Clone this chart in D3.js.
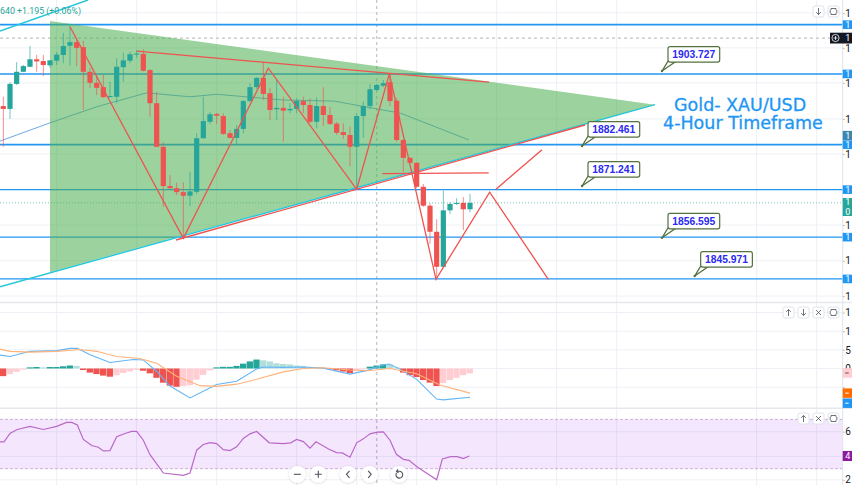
<!DOCTYPE html>
<html>
<head>
<meta charset="utf-8">
<script src="https://d3js.org/d3.v7.min.js"></script>
<style>
  html, body { margin: 0; padding: 0; background: #fff; overflow: hidden; }
  svg { display: block; font-family: Roboto, sans-serif; }
</style>
</head>
<body>
<svg id="chart" width="852" height="485"></svg>
<script>
// 4h candles, one entry per bar
const candleOpen = [1894.9,1894.1,1901.1,1904.5,1905.9,1908.0,1907.5,1906.3,1907.6,1909.2,1911.8,1912.8,1911.4,1904.5,1901.4,1900.2,1897.4,1897.5,1905.8,1907.6,1909.3,1909.5,1905.0,1895.7,1883.5,1872.5,1871.9,1870.8,1869.8,1870.9,1885.9,1890.5,1892.7,1892.1,1887.3,1886.0,1888.5,1896.3,1900.2,1902.8,1898.5,1894.0,1894.4,1893.7,1894.1,1896.3,1895.2,1890.5,1894.9,1892.4,1890.0,1887.6,1886.8,1883.5,1892.1,1894.9,1899.4,1900.6,1901.6,1896.4,1885.4,1880.4,1879.0,1872.3,1867.0,1859.7,1849.9,1865.7,1867.5,1867.8,1866.0];
const candleClose = [1894.1,1901.1,1904.5,1906.1,1908.0,1907.4,1906.4,1907.7,1909.3,1911.7,1912.8,1911.2,1904.5,1901.4,1900.0,1897.4,1897.7,1905.9,1907.7,1909.4,1909.6,1904.8,1895.7,1883.5,1872.5,1871.9,1870.8,1869.8,1871.0,1885.9,1890.7,1892.6,1892.2,1887.1,1886.0,1888.5,1896.3,1900.2,1902.8,1898.3,1893.8,1894.4,1893.6,1894.1,1896.3,1895.2,1890.5,1894.9,1892.4,1889.9,1887.4,1886.8,1883.5,1892.1,1894.9,1899.6,1900.8,1901.3,1896.3,1885.4,1880.4,1879.0,1872.3,1867.0,1859.7,1849.9,1865.7,1867.5,1867.8,1866.0,1867.8];
const candleHigh = [1897.5,1901.6,1907.2,1906.4,1911.7,1909.2,1909.2,1907.8,1910.1,1915.4,1917.3,1913.4,1913.2,1905.6,1903.6,1903.6,1901.7,1908.3,1909.8,1910.1,1910.6,1910.8,1905.2,1898.9,1884.8,1875.6,1873.4,1873.6,1876.5,1887.3,1897.5,1893.3,1893.0,1892.9,1888.2,1889.6,1896.6,1901.3,1903.0,1907.3,1900.0,1902.4,1897.5,1895.7,1897.1,1897.5,1897.1,1897.4,1900.2,1894.6,1890.5,1890.1,1889.1,1892.9,1896.1,1901.1,1901.1,1902.2,1903.9,1897.2,1885.6,1880.6,1879.2,1873.1,1867.7,1863.2,1871.2,1868.0,1869.1,1869.4,1870.3];
const candleLow = [1883.5,1891.3,1900.8,1904.4,1905.8,1904.5,1903.3,1905.6,1906.4,1906.9,1906.2,1906.1,1893.8,1899.9,1898.0,1897.2,1897.3,1895.7,1901.7,1906.9,1908.3,1904.6,1891.9,1883.4,1866.7,1871.6,1870.0,1858.2,1866.9,1870.2,1885.8,1889.8,1889.8,1886.8,1885.9,1884.3,1887.3,1896.1,1899.6,1896.6,1891.0,1891.0,1884.9,1892.9,1892.9,1892.9,1890.1,1888.7,1889.3,1889.6,1886.8,1885.7,1878.1,1871.7,1886.0,1894.0,1899.2,1900.2,1894.9,1884.9,1876.5,1878.9,1871.9,1866.7,1856.3,1846.7,1849.8,1864.7,1867.2,1860.2,1865.2];

// moving average, [bar, price]
const maLine = [[-0.5,1885.1],[7,1890.2],[14,1894.7],[21.5,1898.6],[28,1897.5],[32,1898.2],[42,1896.6],[49.6,1896.3],[59.6,1892.9],[69.85,1885.4]];

// horizontal levels
const levelPrices = [1917.7,1903.9,1884.1,1871.5,1858.2,1846.5];
const lastPrice = 1867.8;
const rangeHigh = 1913.9;

// annotated callouts: tip at [bar, price]
const calloutLabels = ['1903.727','1882.461','1871.241','1856.595','1845.971'];
const calloutBars = [98.8,86.8,86.8,98.8,103.7];
const calloutPrices = [1904.7,1883.7,1872.5,1858.0,1847.3];

// hand-drawn pattern, [bar, price]
const triangle = [[7,1918.7],[97.75,1895.3],[7,1848.4]];
const cyanLow = [[-0.5,1844.3],[97.75,1895.3]];
const cyanHigh = [[-0.5,1915.9],[12.7,1924.6]];
const zigzag = [[10,1917.1],[27,1857.9],[39.75,1905.5],[53,1871.6],[57.9,1903.9],[64.9,1846.4],[72.95,1870.8],[81.75,1846.4]];
const riseLeg = [[73.9,1871.6],[80.8,1882.7]];
const upperTrend = [[20,1910.3],[72.85,1901.6]];
const lowerTrend = [[25.9,1857.4],[87.25,1889.6]];
const neckLine = [[56.85,1876.0],[72.8,1876.2]];

// MACD pane
const histValues = [-2.05,-1.5,-0.9,-0.3,0.3,0.4,0.3,0.4,0.4,0.6,0.8,0.7,-0.4,-1.1,-1.5,-1.9,-2.2,-1.8,-1.2,-0.8,-0.4,-0.6,-1.3,-2.5,-3.8,-4.6,-4.9,-4.7,-4.5,-3.0,-1.7,-0.5,0.3,0.45,0.45,0.7,1.3,1.9,2.4,2.2,1.9,1.4,1.2,1.1,0.8,0.7,0.4,0.35,0.15,-0.2,-0.5,-0.8,-1.2,-0.5,-0.3,0.5,0.8,1.1,1.05,0.3,-1.1,-1.8,-2.3,-3.1,-3.8,-4.7,-3.9,-3.1,-2.5,-1.8,-1.3];
const macdLine = [[-0.5,3.6],[1,3.2],[4,4.6],[8,4.8],[10,5.4],[11.1,5.4],[13,3.7],[16,1.6],[19.5,2.4],[21,2.3],[23,-0.8],[25,-4.7],[28,-7.9],[32,-4.3],[35,-3.4],[38,-0.1],[39,0.4],[42,0.3],[45,0.4],[48,0.1],[52,-1.5],[54.6,-0.5],[57.1,1.0],[57.9,1.2],[59.4,-0.1],[62,-2.9],[65,-8.2],[66,-8.4],[70,-7.7]];
const signalLine = [[-0.5,5.2],[1,4.6],[4,4.4],[8,4.6],[11.5,5.1],[14,4.6],[17,3.2],[20.5,2.7],[23,1.4],[26,-2.1],[29.5,-4.6],[32,-4.8],[35,-4.2],[38,-2.9],[42,-0.9],[45,0],[48,0.2],[52,-0.4],[54.6,-0.6],[58,0],[62,-1.4],[65.6,-4.5],[70,-6.6]];

// RSI pane
const rsiLine = [[-0.5,51.8],[0.1,51.8],[1,58.6],[2,61.6],[4,64.3],[6,61.8],[8,64.3],[9.5,67.6],[10.25,67.6],[11.1,65.4],[12,53.7],[13.25,48.8],[14.25,47.4],[15,44.4],[16,44.7],[17,55.9],[18.25,58.6],[19.25,60.2],[20,60.2],[21,53.1],[22,41.4],[24,26.5],[27,24.6],[28,26.5],[29,45],[30,49.6],[31,51.2],[32,50.4],[33,45.5],[34,44.7],[35,47.7],[36,54.5],[37,58.3],[38,60.2],[39.9,51],[42,50.4],[43.1,51],[44,53.7],[45,52],[46,46.6],[46.9,51.8],[48.85,45.8],[50,43.1],[50.85,42.8],[52,39.3],[53,51],[54,54.2],[55,58.3],[56.1,59.7],[57,59.9],[58,53.1],[58.95,41.7],[60,37.6],[60.85,36.8],[62.1,31.4],[65,21],[65.85,37.9],[67.1,39.8],[68.1,39.8],[69,38.2],[69.9,40.3]];

// axes, empty label where a value tag covers the tick
const priceTicks = [1921,1911.2,1901.4,1891.3,1881.5,1871.5,1861.6,1851.6,1841.7];
const priceTickLabels = ['1','1','1','1','1','','1','1','1'];
const macdTicks = [15,10,5,0,-5];
const macdTickLabels = ['1','1','5','0',''];
const rsiTicks = [60,40,21];
const rsiTickLabels = ['6','','2'];
const gridBars = [8,20,32,44,53,62,74,83,92,113,122];

const width = 852, height = 485, axisX = 842.7;
const titleLines = ['Gold- XAU/USD', '4-Hour Timeframe'];
const legendText = '640 +1.195 (+0.06%)';

const svg = d3.select('#chart');

const x = d3.scaleLinear().domain([0, 70]).range([3.33, 470]);
const y = d3.scaleLinear().domain([1788.8, 1924.6]).range([485, 0]);
const yMacd = d3.scaleLinear().domain([-10, 15]).range([405.8, 312.55]);
const yRsi = d3.scaleLinear().domain([20, 70]).range([481, 419.4]);

const lineOn = yScale => d3.line().x(d => x(d[0])).y(d => yScale(d[1]));
const priceLine = lineOn(y);

// grid
svg.append('g').selectAll('line').data(gridBars).join('line')
  .attr('x1', d => x(d)).attr('x2', d => x(d))
  .attr('y1', 0).attr('y2', height)
  .attr('stroke', '#eef0f5');

const hGrid = (ticks, scale) => svg.append('g').selectAll('line').data(ticks).join('line')
  .attr('x1', 0).attr('x2', axisX)
  .attr('y1', d => scale(d)).attr('y2', d => scale(d))
  .attr('stroke', '#eef0f5');

hGrid(priceTicks, y);
hGrid(macdTicks, yMacd);
hGrid(rsiTicks, yRsi);

// pane separators
svg.append('g').selectAll('line').data([302.4, 408.3]).join('line')
  .attr('x1', 0).attr('x2', width)
  .attr('y1', d => d).attr('y2', d => d)
  .attr('stroke', '#e6e8ee')
  .attr('stroke-width', 1.5);

// session high, crosshair
svg.append('line')
  .attr('x1', 0).attr('x2', 832)
  .attr('y1', y(rangeHigh)).attr('y2', y(rangeHigh))
  .attr('stroke', '#c4c4c4').attr('stroke-width', 1.2).attr('stroke-dasharray', '3,3');

svg.append('line')
  .attr('x1', x(56)).attr('x2', x(56))
  .attr('y1', 0).attr('y2', height)
  .attr('stroke', '#c8c8cc').attr('stroke-width', 1.4).attr('stroke-dasharray', '3,3');

// levels and moving average sit under the triangle
svg.append('g').selectAll('line').data(levelPrices).join('line')
  .attr('x1', 0).attr('x2', axisX)
  .attr('y1', d => y(d)).attr('y2', d => y(d))
  .attr('stroke', '#2196f3')
  .attr('stroke-width', (d, i) => (i < 3 ? 1.6 : 1.3));

svg.append('line')
  .attr('x1', 0).attr('x2', axisX)
  .attr('y1', y(lastPrice)).attr('y2', y(lastPrice))
  .attr('stroke', '#26a69a').attr('opacity', 0.6).attr('stroke-dasharray', '1,2');

svg.append('path').datum(maLine)
  .attr('d', priceLine)
  .attr('fill', 'none').attr('stroke', '#5d9fe0').attr('stroke-width', 0.9);

svg.append('path').datum(triangle)
  .attr('d', d => priceLine(d) + 'Z')
  .attr('fill', '#4caf50').attr('opacity', 0.56);

[cyanLow, cyanHigh].forEach(seg => {
  svg.append('path').datum(seg)
    .attr('d', priceLine)
    .attr('fill', 'none').attr('stroke', '#26c6da').attr('stroke-width', 1.4);
});

// candles
const bars = d3.range(candleOpen.length);
const candleColor = i => (candleClose[i] >= candleOpen[i] ? '#26a69a' : '#ef5350');

svg.append('g').selectAll('line').data(bars).join('line')
  .attr('x1', i => x(i)).attr('x2', i => x(i))
  .attr('y1', i => y(candleHigh[i])).attr('y2', i => y(candleLow[i]))
  .attr('stroke', candleColor)
  .attr('opacity', 0.65);

svg.append('g').selectAll('rect').data(bars).join('rect')
  .attr('x', i => x(i) - 2.6)
  .attr('width', 5.2)
  .attr('y', i => y(Math.max(candleOpen[i], candleClose[i])))
  .attr('height', i => Math.max(1, Math.abs(y(candleOpen[i]) - y(candleClose[i]))))
  .attr('fill', candleColor);

// red pattern lines
[zigzag, riseLeg, upperTrend, lowerTrend, neckLine].forEach(seg => {
  svg.append('path').datum(seg)
    .attr('d', priceLine)
    .attr('fill', 'none').attr('stroke', '#ef5350').attr('stroke-width', 1.3);
});

// callouts
calloutLabels.forEach((label, i) => {
  const tipX = x(calloutBars[i]), tipY = y(calloutPrices[i]);
  const g = svg.append('g').attr('transform', `translate(${tipX},${tipY})`);
  g.append('path')
    .attr('d', 'M6,-10L0,0L13,-9Z')
    .attr('fill', '#fff').attr('stroke', '#55713f').attr('stroke-width', 1.2);
  g.append('circle').attr('r', 1.2).attr('fill', '#55713f');
  g.append('rect')
    .attr('x', 6).attr('y', -24.4)
    .attr('width', 51.7).attr('height', 15.4)
    .attr('rx', 2)
    .attr('fill', '#fff').attr('stroke', '#55713f').attr('stroke-width', 1.2);
  g.append('text')
    .attr('x', 31.8).attr('y', -12.9)
    .attr('text-anchor', 'middle')
    .attr('font-family', 'Liberation Sans')
    .attr('font-weight', 'bold')
    .attr('font-size', '10.3px')
    .attr('fill', '#2a2af0')
    .text(label);
});

// title
svg.append('text')
  .attr('x', 674).attr('y', 110.5)
  .attr('font-family', 'DejaVu Sans')
  .attr('font-size', '17.5px')
  .attr('fill', '#2196f3').attr('stroke', '#2196f3').attr('stroke-width', 0.3)
  .text(titleLines[0]);
svg.append('text')
  .attr('x', 663).attr('y', 129)
  .attr('font-family', 'DejaVu Sans')
  .attr('font-size', '17.5px')
  .attr('fill', '#2196f3').attr('stroke', '#2196f3').attr('stroke-width', 0.3)
  .text(titleLines[1]);

svg.append('text')
  .attr('x', 0).attr('y', 14)
  .attr('font-size', '8.8px')
  .attr('fill', '#26a69a')
  .text(legendText);

// MACD pane
svg.append('g').selectAll('rect').data(histValues).join('rect')
  .attr('x', (d, i) => x(i) - 3.33)
  .attr('width', 6.3)
  .attr('y', d => yMacd(Math.max(d, 0)))
  .attr('height', d => Math.abs(yMacd(d) - yMacd(0)))
  .attr('fill', (d, i) => {
    const prev = i > 0 ? histValues[i - 1] : d;
    if (d >= 0) return d >= prev ? '#26a69a' : '#b2dfdb';
    return d <= prev ? '#ef5350' : '#ffcdd2';
  });

const macdPath = lineOn(yMacd);
svg.append('path').datum(macdLine)
  .attr('d', macdPath)
  .attr('fill', 'none').attr('stroke', '#64b5f6').attr('stroke-width', 1.1);
svg.append('path').datum(signalLine)
  .attr('d', macdPath)
  .attr('fill', 'none').attr('stroke', '#ffb27a').attr('stroke-width', 1.1);

// RSI pane
svg.append('rect')
  .attr('x', 0).attr('width', axisX)
  .attr('y', yRsi(70)).attr('height', yRsi(30) - yRsi(70))
  .attr('fill', '#9c27f0').attr('opacity', 0.11);

svg.append('g').selectAll('line').data([70, 30]).join('line')
  .attr('x1', 0).attr('x2', axisX)
  .attr('y1', d => yRsi(d)).attr('y2', d => yRsi(d))
  .attr('stroke', '#cdb0d8').attr('stroke-dasharray', '3,2');

svg.append('path').datum(rsiLine)
  .attr('d', lineOn(yRsi))
  .attr('fill', 'none').attr('stroke', '#ba68c8').attr('stroke-width', 1.2);

// right axes
const rightAxis = (scale, ticks, labels) => svg.append('g')
  .attr('transform', `translate(${axisX},0)`)
  .call(d3.axisRight(scale).tickValues(ticks).tickSize(2).tickPadding(0.5).tickFormat((d, i) => labels[i]))
  .call(g => g.select('.domain').remove())
  .call(g => g.selectAll('line').attr('stroke', '#b2b5be'))
  .call(g => g.selectAll('text')
    .attr('font-family', 'Roboto').attr('font-size', '10px').attr('fill', '#131722'));

rightAxis(y, priceTicks, priceTickLabels);
rightAxis(yMacd, macdTicks, macdTickLabels);
rightAxis(yRsi, rsiTicks, rsiTickLabels);

svg.append('line')
  .attr('x1', axisX).attr('x2', axisX)
  .attr('y1', 0).attr('y2', height)
  .attr('stroke', '#e0e3eb');

// axis tags
const tag = (cy, h, fill, label) => {
  svg.append('rect')
    .attr('x', axisX).attr('y', cy - h / 2)
    .attr('width', width - axisX).attr('height', h)
    .attr('fill', fill);
  if (label) {
    svg.append('text')
      .attr('x', axisX + 2.5).attr('y', cy + 3.2)
      .attr('font-size', '9px')
      .attr('fill', '#fff')
      .text(label);
  }
};

const tagDash = (cy, color) => svg.append('line')
  .attr('x1', axisX + 2.5).attr('x2', axisX + 6)
  .attr('y1', cy).attr('y2', cy)
  .attr('stroke', color);

levelPrices.forEach(p => tag(y(p), 8.6, '#2196f3', '1'));
tag(135.5, 9.2, '#3d86ad', '1');
tag(207, 18, '#26a69a');
svg.append('text').attr('x', axisX + 2.5).attr('y', 204.5).attr('font-size', '9px').attr('fill', '#fff').text('1');
svg.append('text').attr('x', axisX + 2.5).attr('y', 214.5).attr('font-size', '9px').attr('fill', '#fff').text('0');

tag(yMacd(-1.2), 9.5, '#ffcdd2');
tagDash(yMacd(-1.2), '#555');
tag(yMacd(-6.6), 9.5, '#ff6d00');
tagDash(yMacd(-6.6), '#fff');
tag(yMacd(-9.3), 9.5, '#2196f3');
tagDash(yMacd(-9.3), '#fff');
tag(yRsi(40.3), 10, '#8e1aa0', '4');

// last price crosshair tag
svg.append('rect').attr('x', 830).attr('y', 32.7).attr('width', 22).attr('height', 10.8).attr('fill', '#131722');
svg.append('circle').attr('cx', 835.5).attr('cy', 38).attr('r', 3.6)
  .attr('fill', 'none').attr('stroke', '#fff').attr('stroke-width', 0.8);
svg.append('path').attr('d', 'M833.5,38H837.5M835.5,36V40').attr('stroke', '#fff').attr('stroke-width', 0.8);
svg.append('text').attr('x', axisX + 2.5).attr('y', 41.3).attr('font-size', '9px').attr('fill', '#fff').text('1');

// pane buttons
const paneButton = (px, py, glyph) => {
  const g = svg.append('g').attr('transform', `translate(${px},${py})`);
  g.append('rect')
    .attr('width', 11).attr('height', 11).attr('rx', 2)
    .attr('fill', '#fff').attr('stroke', '#e0e3eb');
  if (glyph === 'full') {
    g.append('path').attr('d', 'M3,4V2.5H8V4M3,7V8.5H8V7M2.2,4V7M8.8,4V7')
      .attr('fill', 'none').attr('stroke', '#4a4e5a').attr('stroke-width', 0.8);
  } else if (glyph === 'up') {
    g.append('path').attr('d', 'M5.5,9V2.5M3.2,4.8L5.5,2.5L7.8,4.8')
      .attr('fill', 'none').attr('stroke', '#4a4e5a').attr('stroke-width', 0.8);
  } else if (glyph === 'down') {
    g.append('path').attr('d', 'M5.5,2V8.5M3.2,6.2L5.5,8.5L7.8,6.2')
      .attr('fill', 'none').attr('stroke', '#4a4e5a').attr('stroke-width', 0.8);
  } else {
    g.append('path').attr('d', 'M3,3L8,8M8,3L3,8')
      .attr('fill', 'none').attr('stroke', '#4a4e5a').attr('stroke-width', 0.8);
  }
};

paneButton(813, 6, 'down');
paneButton(828, 6, 'full');
paneButton(783, 307, 'up');
paneButton(798, 307, 'down');
paneButton(813, 307, 'close');
paneButton(828, 307, 'full');
paneButton(798, 413, 'up');
paneButton(813, 413, 'close');
paneButton(828, 413, 'full');

// zoom controls along the bottom
const controls = [
  [297.3, 'M-3.5,0H3.5'],
  [318.3, 'M-3.5,0H3.5M0,-3.5V3.5'],
  [348, 'M1.5,-3.5L-1.5,0L1.5,3.5'],
  [369.7, 'M-1.5,-3.5L1.5,0L-1.5,3.5'],
  [399, 'M-2.5,-1.5A3.4,3.4 0 1 0 0,-3H-2M-1,-5L-2.5,-3L-0.5,-1.5']
];

const filter = svg.append('defs').append('filter').attr('id', 'soft')
  .attr('x', '-50%').attr('y', '-50%').attr('width', '200%').attr('height', '200%');
filter.append('feDropShadow')
  .attr('dx', 0).attr('dy', 0.5).attr('stdDeviation', 1.2)
  .attr('flood-color', '#000').attr('flood-opacity', 0.2);

controls.forEach(([cx, icon]) => {
  const g = svg.append('g').attr('transform', `translate(${cx},474.3)`);
  g.append('circle').attr('r', 8.4).attr('fill', '#fff').attr('filter', 'url(#soft)');
  g.append('path').attr('d', icon)
    .attr('fill', 'none').attr('stroke', '#50535e').attr('stroke-width', 1.1);
});
</script>
</body>
</html>
